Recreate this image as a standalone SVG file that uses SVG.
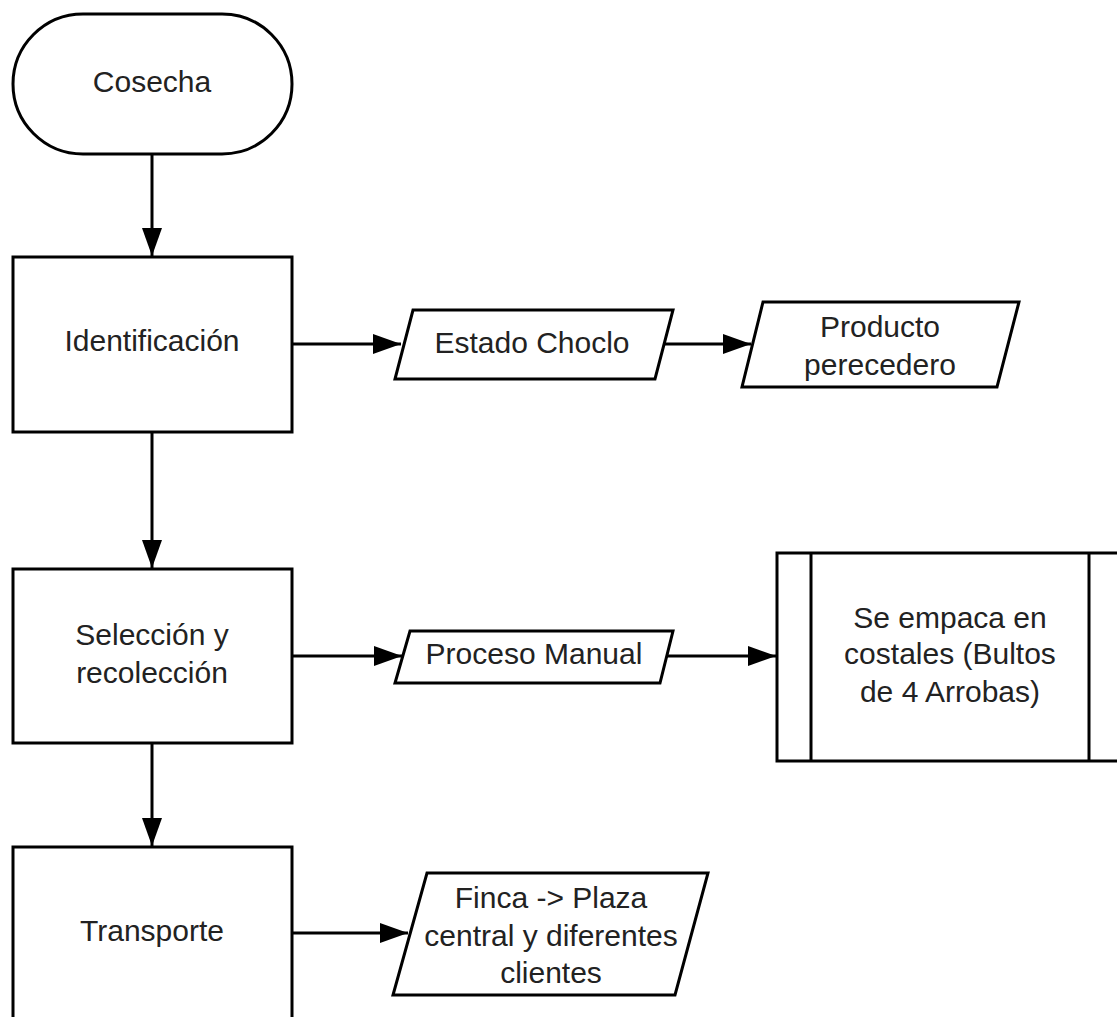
<svg xmlns="http://www.w3.org/2000/svg" width="1117" height="1017" viewBox="0 0 1117 1017">
<defs>
<style>
.shape{fill:#fff;stroke:#000;stroke-width:3}
.conn{fill:none;stroke:#000;stroke-width:3}
text{font-family:"Liberation Sans",Arial,sans-serif;font-size:30px;fill:#222;text-anchor:middle}
</style>
<marker id="arrow" viewBox="0 0 28 20" refX="28" refY="10" markerWidth="28" markerHeight="20" markerUnits="userSpaceOnUse" orient="auto">
<path d="M0,0 L28,10 L0,20 z" fill="#000"/>
</marker>
</defs>
<rect width="1117" height="1017" fill="#fff"/>
<g id="connectors">
<line class="conn" x1="152" y1="154" x2="152" y2="256" marker-end="url(#arrow)"/>
<line class="conn" x1="152" y1="432" x2="152" y2="568" marker-end="url(#arrow)"/>
<line class="conn" x1="152" y1="743" x2="152" y2="846" marker-end="url(#arrow)"/>
<line class="conn" x1="292" y1="344" x2="401" y2="344" marker-end="url(#arrow)"/>
<line class="conn" x1="664" y1="344" x2="751" y2="344" marker-end="url(#arrow)"/>
<line class="conn" x1="292" y1="656" x2="402" y2="656" marker-end="url(#arrow)"/>
<line class="conn" x1="667" y1="656" x2="776" y2="656" marker-end="url(#arrow)"/>
<line class="conn" x1="292" y1="933" x2="408" y2="933" marker-end="url(#arrow)"/>
</g>
<g id="cosecha">
<rect class="shape" x="13" y="14" width="279" height="140" rx="70" ry="70"/>
<text x="152" y="92">Cosecha</text>
</g>
<g id="identificacion">
<rect class="shape" x="13" y="257" width="279" height="175"/>
<text x="152" y="351">Identificación</text>
</g>
<g id="estado-choclo">
<polygon class="shape" points="413,310 673,310 655,379 395,379"/>
<text x="532" y="353">Estado Choclo</text>
</g>
<g id="producto-perecedero">
<polygon class="shape" points="763,302 1019,302 997,387 742,387"/>
<text x="880" y="337">Producto</text>
<text x="880" y="375">perecedero</text>
</g>
<g id="seleccion">
<rect class="shape" x="13" y="569" width="279" height="174"/>
<text x="152" y="645">Selección y</text>
<text x="152" y="683">recolección</text>
</g>
<g id="proceso-manual">
<polygon class="shape" points="410,631 673,631 660,683 395,683"/>
<text x="534" y="664">Proceso Manual</text>
</g>
<g id="empaque">
<rect class="shape" x="777" y="553" width="360" height="208"/>
<line class="conn" x1="811" y1="553" x2="811" y2="761"/>
<line class="conn" x1="1089" y1="553" x2="1089" y2="761"/>
<text x="950" y="628">Se empaca en</text>
<text x="950" y="664">costales (Bultos</text>
<text x="950" y="702">de 4 Arrobas)</text>
</g>
<g id="transporte">
<rect class="shape" x="13" y="847" width="279" height="200"/>
<text x="152" y="941">Transporte</text>
</g>
<g id="finca">
<polygon class="shape" points="427,873 708,873 675,995 393,995"/>
<text x="551" y="908">Finca -&gt; Plaza</text>
<text x="551" y="946">central y diferentes</text>
<text x="551" y="983">clientes</text>
</g>
</svg>
